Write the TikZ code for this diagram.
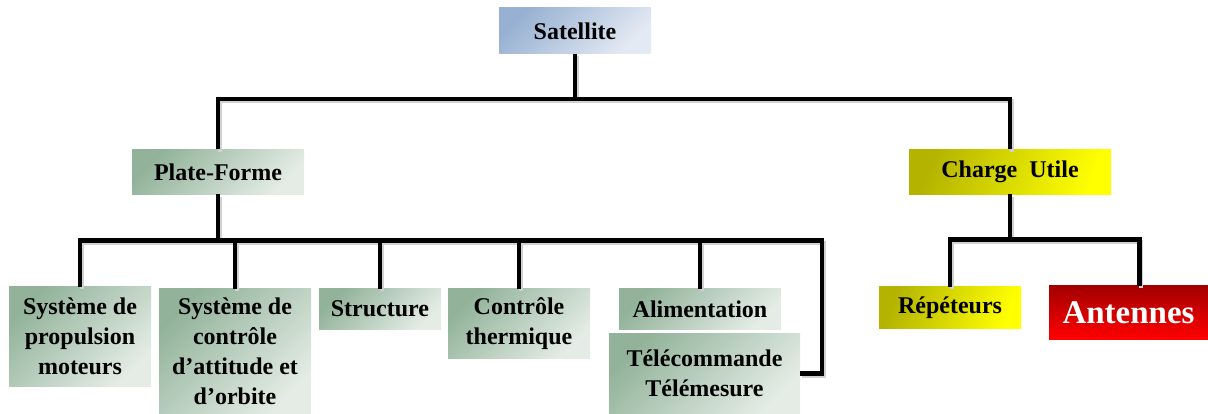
\documentclass[tikz,border=0pt]{standalone}
\usepackage{fontspec}
\setmainfont{Liberation Serif}
\definecolor{bluedark}{HTML}{98B1D2}
\definecolor{bluelight}{HTML}{E4EAF3}
\definecolor{greendark}{HTML}{92B39A}
\definecolor{greenlight}{HTML}{E4ECE5}
\definecolor{yellowdark}{HTML}{B3B300}
\definecolor{yellowlight}{HTML}{FFFF00}
\definecolor{reddark}{HTML}{A30000}
\definecolor{redlight}{HTML}{FF0000}
\tikzset{
  box/.style={inner sep=0pt,outer sep=0pt,align=center,
    font=\fontsize{24}{30}\selectfont\bfseries},
  bluebox/.style={box,top color=bluedark,bottom color=bluelight,shading angle=45},
  greenbox/.style={box,top color=greendark,bottom color=greenlight,shading angle=45},
  yellowbox/.style={box,left color=yellowdark,right color=yellowlight,shading angle=70},
  redbox/.style={box,top color=reddark,bottom color=redlight,text=white,
    font=\fontsize{33}{38}\selectfont\bfseries},
  conn/.style={black,line width=4.2pt,line join=miter,
    preaction={draw=black!18,line width=4pt,transform canvas={shift={(1.5pt,-2.5pt)}}}}
}

\begin{document}
\begin{tikzpicture}[x=1pt,y=-1pt]
        \useasboundingbox (0,0) rectangle (1208,414);
        % top level
        \node[bluebox,minimum width=152pt,minimum height=46pt] (sat) at (575,31) {Satellite};
        \node[greenbox,minimum width=172pt,minimum height=45pt] (pf) at (218,172) {Plate-Forme};
        \node[yellowbox,minimum width=202pt,minimum height=45pt] (cu) at (1010,172) {Charge\ \ Utile};
        % plate-forme
        \node[greenbox,minimum width=142pt,minimum height=99pt] (prop) at (80,336.5) {Système de\\propulsion\\moteurs};
        \node[greenbox,minimum width=152pt,minimum height=125pt] (scao) at (235,351.5) {Système de\\contrôle\\d’attitude et\\d’orbite};
        \node[greenbox,minimum width=122pt,minimum height=40pt] (struct) at (380,309) {Structure};
        \node[greenbox,minimum width=142pt,minimum height=69pt] (therm) at (519,323.5) {Contrôle\\thermique};
        \node[greenbox,minimum width=162pt,minimum height=40pt] (alim) at (700,309) {Alimentation};
        \node[greenbox,minimum width=191pt,minimum height=81pt] (ttm) at (704.5,373.5) {Télécommande\\Télémesure};
        % charge utile
        \node[yellowbox,minimum width=142pt,minimum height=41pt] (rep) at (950,307.5) {Répéteurs};
        \node[redbox,minimum width=159pt,minimum height=53pt] (ant) at (1128.5,312.5) {Antennes};
        % connectors
        \draw[conn] (sat.south) -- ++(0,45) coordinate (j1);
        \draw[conn] (pf.north) |- (j1) -| (cu.north);
        \draw[conn] (pf.south) -- ++(0,46) coordinate (j2);
        \path (j2) ++(604,0) coordinate (tc);
        \draw[conn] (prop.north) |- (j2) -- (tc) |- (ttm.east);
        \foreach \n in {scao,struct,therm,alim}
          \draw[conn] (\n.north) -- (\n.north |- j2);
        \draw[conn] (cu.south) -- ++(0,45) coordinate (j3);
        \draw[conn] (rep.north) |- (j3) -| ([xshift=11pt]ant.north);
      \end{tikzpicture}
\end{document}
